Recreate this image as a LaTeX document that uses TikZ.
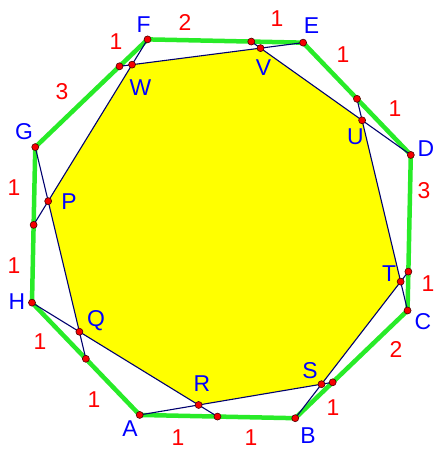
\documentclass[tikz,border=0pt]{standalone}
\usepackage{fontspec}
\setmainfont{Liberation Sans}
\usetikzlibrary{calc}
\definecolor{edgegreen}{RGB}{40,235,40}
\definecolor{navyline}{RGB}{0,0,110}
\definecolor{lblblue}{RGB}{0,0,255}
\definecolor{lblred}{RGB}{255,0,0}
\definecolor{ptred}{RGB}{245,0,0}
\definecolor{fillyellow}{RGB}{255,255,0}
\begin{document}
\begin{tikzpicture}[x=1bp,y=1bp,
  outer/.style={draw=edgegreen,line width=4.5bp,line join=round},
  chord/.style={draw=navyline,line width=1.1bp},
  ptdot/.style={circle,fill=ptred,draw=black!70!red,line width=0.6bp,inner sep=0pt,minimum size=7bp},
  vlab/.style={text=lblblue,font=\fontsize{23}{23}\selectfont,inner sep=0pt},
  nlab/.style={text=lblred,font=\fontsize{23}{23}\selectfont,inner sep=0pt}]
\useasboundingbox (0,0) rectangle (435,450);
% regular octagon
\coordinate (O) at (221.4,221.2);
\coordinate (A) at ($(O)+(246.3:203.3)$);
\coordinate (B) at ($(O)+(291.3:203.3)$);
\coordinate (C) at ($(O)+(336.3:203.3)$);
\coordinate (D) at ($(O)+(21.3:203.3)$);
\coordinate (E) at ($(O)+(66.3:203.3)$);
\coordinate (F) at ($(O)+(111.3:203.3)$);
\coordinate (G) at ($(O)+(156.3:203.3)$);
\coordinate (H) at ($(O)+(201.3:203.3)$);
% division points on sides
\coordinate (pAB) at ($(A)!0.5!(B)$);
\coordinate (pBC) at ($(B)!0.3333!(C)$);
\coordinate (pCD) at ($(C)!0.25!(D)$);
\coordinate (pDE) at ($(D)!0.5!(E)$);
\coordinate (pEF) at ($(E)!0.3333!(F)$);
\coordinate (pFG) at ($(F)!0.25!(G)$);
\coordinate (pGH) at ($(G)!0.5!(H)$);
\coordinate (pHA) at ($(H)!0.5!(A)$);
% inner octagon vertices
\coordinate (R) at (intersection of A--pBC and H--pAB);
\coordinate (S) at (intersection of A--pBC and B--pCD);
\coordinate (T) at (intersection of B--pCD and C--pDE);
\coordinate (U) at (intersection of C--pDE and D--pEF);
\coordinate (V) at (intersection of D--pEF and E--pFG);
\coordinate (W) at (intersection of E--pFG and F--pGH);
\coordinate (P) at (intersection of F--pGH and G--pHA);
\coordinate (Q) at (intersection of G--pHA and H--pAB);
% yellow inner polygon
\fill[fillyellow] (W) -- (V) -- (U) -- (T) -- (S) -- (R) -- (Q) -- (P) -- cycle;
% green outer polygon
\draw[outer] (A) -- (B) -- (C) -- (D) -- (E) -- (F) -- (G) -- (H) -- cycle;
% navy chords
\draw[chord] (A) -- (pBC);
\draw[chord] (B) -- (pCD);
\draw[chord] (C) -- (pDE);
\draw[chord] (D) -- (pEF);
\draw[chord] (E) -- (pFG);
\draw[chord] (F) -- (pGH);
\draw[chord] (G) -- (pHA);
\draw[chord] (H) -- (pAB);
% points
\foreach \p in {A,B,C,D,E,F,G,H,pAB,pBC,pCD,pDE,pEF,pFG,pGH,pHA,R,S,T,U,V,W,P,Q}
  \node[ptdot] (dot\p) at (\p) {};
% vertex labels
\node[vlab] (lA) at (130,21) {A};
\node[vlab] (lB) at (308,14) {B};
\node[vlab] (lC) at (423,128) {C};
\node[vlab] (lD) at (426,301.5) {D};
\node[vlab] (lE) at (311.5,424.5) {E};
\node[vlab] (lF) at (143.5,425.5) {F};
\node[vlab] (lG) at (24,318) {G};
\node[vlab] (lH) at (17,148) {H};
\node[vlab] (lW) at (140.5,362.5) {W};
\node[vlab] (lV) at (263.5,382.5) {V};
\node[vlab] (lU) at (355.5,313) {U};
\node[vlab] (lT) at (389,176) {T};
\node[vlab] (lS) at (310,79) {S};
\node[vlab] (lR) at (202,66) {R};
\node[vlab] (lQ) at (96,129) {Q};
\node[vlab] (lP) at (69,248) {P};
% length labels
\node[nlab] (n1) at (185,427) {2};
\node[nlab] (n2) at (277,431) {1};
\node[nlab] (n3) at (343,395) {1};
\node[nlab] (n4) at (395,341) {1};
\node[nlab] (n5) at (424,259) {3};
\node[nlab] (n6) at (428,166) {1};
\node[nlab] (n7) at (396,100) {2};
\node[nlab] (n8) at (333,42) {1};
\node[nlab] (n9) at (251,12) {1};
\node[nlab] (n10) at (178,12) {1};
\node[nlab] (n11) at (94,50) {1};
\node[nlab] (n12) at (40,108) {1};
\node[nlab] (n13) at (14,184) {1};
\node[nlab] (n14) at (14,262) {1};
\node[nlab] (n15) at (62,358) {3};
\node[nlab] (n16) at (116,408) {1};
\end{tikzpicture}
\end{document}
